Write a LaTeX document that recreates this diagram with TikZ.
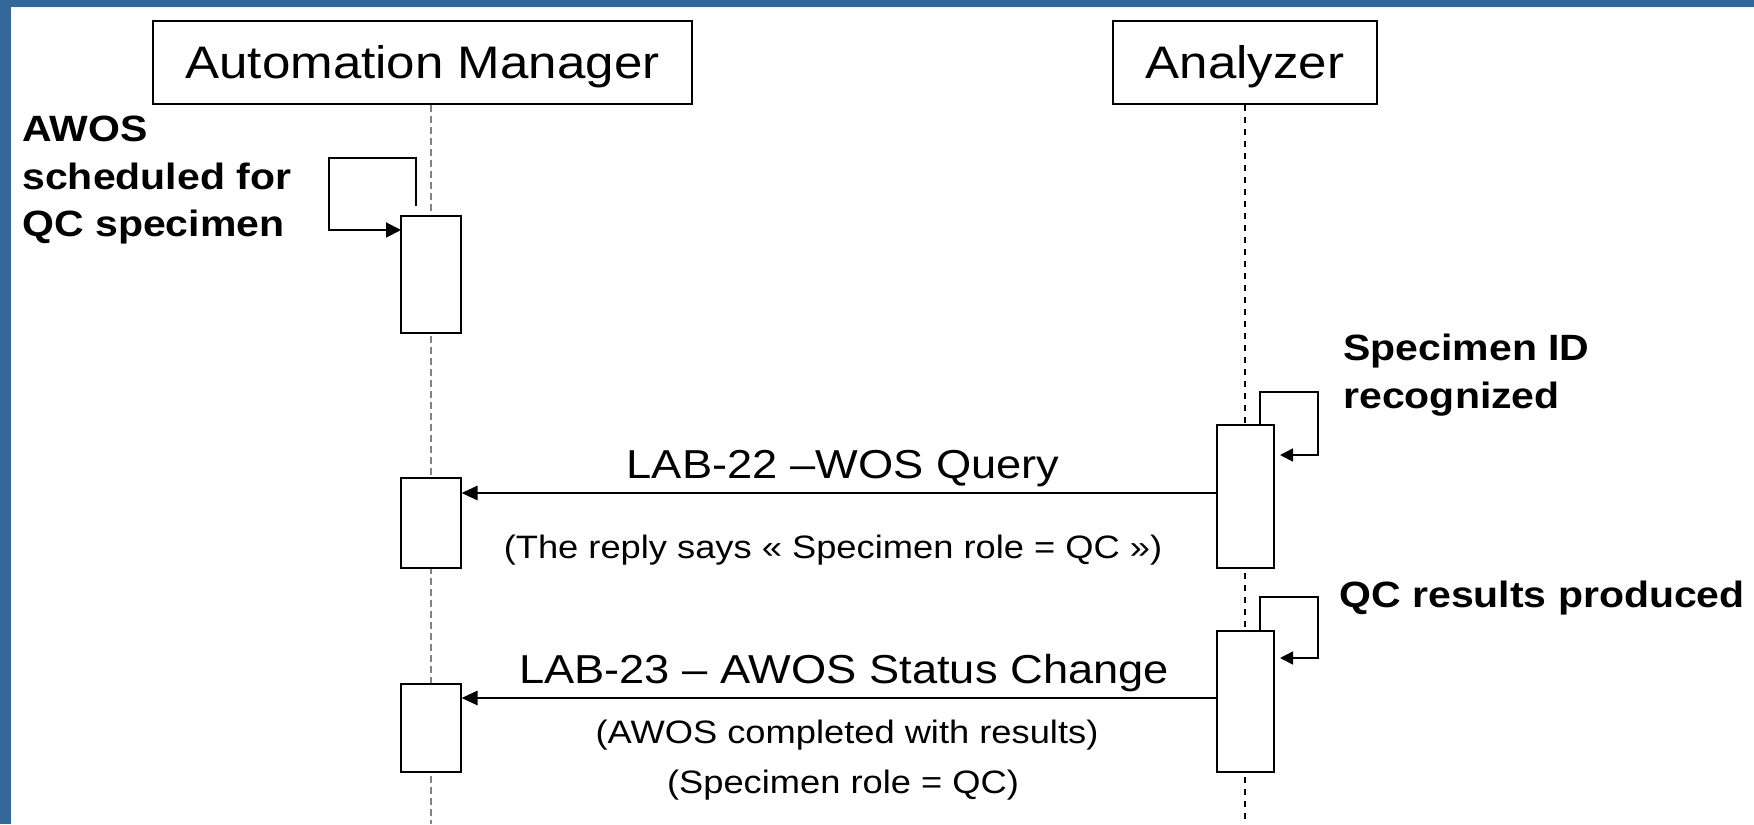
\documentclass[tikz,border=0pt]{standalone}
\usepackage{fontspec}
\setmainfont{Liberation Sans}[FakeStretch=1.12]
\usetikzlibrary{arrows.meta,calc}
\definecolor{frameblue}{RGB}{52,103,154}
\definecolor{lifegray}{RGB}{130,130,130}
\begin{document}
\begin{tikzpicture}[x=0.5pt,y=-0.5pt,
  titlebox/.style={draw=black,line width=1pt,fill=white,inner sep=0pt,
    font=\fontsize{22.8}{27}\selectfont,text height=16.3pt,text depth=0pt},
  actbox/.style={draw=black,line width=1pt,fill=white,inner sep=0pt},
  amlife/.style={draw=lifegray,line width=1pt,dash pattern=on 3.5pt off 2pt},
  anlife/.style={draw=black,line width=0.7pt,dash pattern=on 3pt off 3pt},
  msg/.style={draw=black,line width=1.4pt,-{Triangle[length=8pt,width=7pt]}},
  selfloop/.style={draw=black,line width=1pt,-{Triangle[length=7.5pt,width=7.5pt]}},
  anloop/.style={draw=black,line width=0.85pt,-{Triangle[length=6.5pt,width=6.5pt]}},
  msglabel/.style={inner sep=0pt,anchor=base,font=\fontsize{20.2}{24}\selectfont},
  msgnote/.style={inner sep=0pt,anchor=base,font=\fontsize{16.2}{20}\selectfont},
  boldnote/.style={inner sep=0pt,align=left,font=\bfseries\fontsize{18.3}{23.75}\selectfont}
]
\useasboundingbox (0,0) rectangle (1754,824);
\fill[white] (0,0) rectangle (1754,824);
\fill[frameblue] (0,0) rectangle (11,824);
\fill[frameblue] (0,0) rectangle (1754,7);

% participants
\node[titlebox,minimum width=269.5pt,minimum height=41.5pt] (am) at (422.5,62.5) {Automation Manager};
\node[titlebox,minimum width=132pt,minimum height=41.5pt] (an) at (1245,62.5) {Analyzer};

\coordinate (amx) at (430.5,0);
\coordinate (bottom) at (0,824);
\draw[amlife] (am.south -| amx) -- (amx |- bottom);
\draw[anlife] (an.south) -- (an.south |- bottom);

% activation boxes
\node[actbox,minimum width=30pt,minimum height=58.5pt] (am1) at (430.5,274.5) {};
\node[actbox,minimum width=30pt,minimum height=45pt] (am2) at (430.5,523) {};
\node[actbox,minimum width=30pt,minimum height=44pt] (am3) at (430.5,728) {};
\node[actbox,minimum width=28.5pt,minimum height=71.5pt] (an1) at (1245.5,496.5) {};
\node[actbox,minimum width=28.5pt,minimum height=70.5pt] (an2) at (1245.5,701.5) {};

% self loops
\draw[selfloop] ($(am1.north)+(-14.5,-9)$) -- ++(0,-48) -- ++(-87,0) -- ++(0,72) -- ++(72,0);
\draw[anloop] ($(an1.north)+(14.5,0)$) -- ++(0,-32) -- ++(58,0) -- ++(0,63) -- ++(-38,0);
\draw[anloop] ($(an2.north)+(14.5,0)$) -- ++(0,-33) -- ++(58,0) -- ++(0,61) -- ++(-38,0);

% messages
\coordinate (m1) at (0,493);
\coordinate (m2) at (0,698);
\draw[msg] (an1.west |- m1) -- (am2.east |- m1);
\draw[msg] (an2.west |- m2) -- (am3.east |- m2);

% labels
\node[msglabel] (l22) at (843,478) {LAB-22 –WOS Query};
\node[msgnote] (l22n) at (833,558) {(The reply says « Specimen role = QC »)};
\node[msglabel] (l23) at (844,683) {LAB-23 – AWOS Status Change};
\node[msgnote] (l23n) at (847,743) {(AWOS completed with results)};
\node[msgnote] (l23r) at (843,793) {(Specimen role = QC)};

% notes
\node[boldnote,anchor=north west] (awos) at (22,116) {AWOS\\scheduled for\\QC specimen};
\node[boldnote,anchor=north west] (specid) at (1343,334) {Specimen ID\\recognized};
\node[boldnote,anchor=base west] (qcres) at (1339,607) {QC results produced};
\end{tikzpicture}
\end{document}
